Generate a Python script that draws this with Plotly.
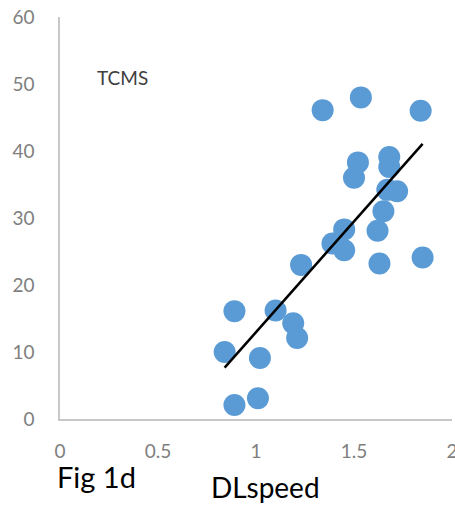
import numpy as np
import plotly.graph_objects as go

# DLspeed (x) vs TCMS (y)
dlspeed = [0.84, 0.89, 0.89, 1.02, 1.01, 1.10, 1.19, 1.21, 1.23,
           1.34, 1.535, 1.84, 1.85, 1.63, 1.50, 1.52, 1.68, 1.68,
           1.67, 1.72, 1.65, 1.62, 1.45, 1.39, 1.45]
tcms = [10.0, 16.1, 2.1, 9.1, 3.1, 16.2, 14.3, 12.1, 23.0,
        46.1, 48.0, 46.0, 24.1, 23.2, 36.0, 38.3, 39.1, 37.6,
        34.2, 34.0, 31.0, 28.1, 28.3, 26.2, 25.2]

x_ticks = [0, 0.5, 1, 1.5, 2]
x_tick_labels = ["0", "0.5", "1", "1.5", "2"]
y_ticks = [0, 10, 20, 30, 40, 50, 60]

# linear trendline (least squares)
slope, intercept = np.polyfit(dlspeed, tcms, 1)
x_fit = np.array([min(dlspeed), max(dlspeed)])
y_fit = slope * x_fit + intercept

fig = go.Figure()
fig.add_trace(go.Scatter(
    x=dlspeed, y=tcms, mode="markers",
    marker=dict(size=22, color="#5B9BD5", line=dict(width=0)),
    showlegend=False,
))
fig.add_trace(go.Scatter(
    x=x_fit, y=y_fit, mode="lines",
    line=dict(color="black", width=2.5),
    showlegend=False,
))

tick_font = dict(family="Lato", size=19, color="#7f7f7f")

fig.update_layout(
    width=455, height=507,
    margin=dict(l=60, r=3, t=17, b=88, autoexpand=False),
    paper_bgcolor="white", plot_bgcolor="white",
    font=dict(family="Lato"),
    xaxis=dict(
        range=[0, 2], tickvals=x_ticks, ticktext=x_tick_labels,
        showgrid=False, zeroline=False,
        showline=True, linecolor="#c8c8c8", linewidth=1.5,
        ticks="", tickfont=tick_font, ticklabelstandoff=14,
        ticklabeloverflow="allow", automargin=False,
    ),
    yaxis=dict(
        range=[0, 60], tickvals=y_ticks,
        showgrid=False, zeroline=False,
        showline=True, linecolor="#c8c8c8", linewidth=1.5,
        ticks="", tickfont=tick_font, ticklabelstandoff=20,
        ticklabeloverflow="allow", automargin=False,
    ),
    annotations=[
        dict(text="TCMS", x=0.12, y=51, xref="paper", yref="y",
             xanchor="left", yanchor="middle", showarrow=False,
             font=dict(family="Lato", size=19, color="#404040")),
        dict(text="Fig 1d", x=55, y=30, xref="paper", yref="paper",
             showarrow=False, font=dict(family="Lato", size=29, color="black")),
        dict(text="DLspeed", x=0.5, y=0, xref="paper", yref="paper",
             showarrow=False, font=dict(family="Lato", size=28, color="black")),
    ],
)

# place the lower texts in pixel-like paper coordinates
plot_w = 455 - 60 - 3
plot_h = 507 - 17 - 88
fig.layout.annotations[1].update(x=(55 - 60) / plot_w, y=(419 - 476) / plot_h,
                                 xanchor="left", yanchor="middle")
fig.layout.annotations[2].update(x=(265 - 60) / plot_w, y=(419 - 487) / plot_h,
                                 xanchor="center", yanchor="middle")
fig.layout.annotations[0].update(x=(95 - 60) / plot_w)

fig.write_html("out.html")
